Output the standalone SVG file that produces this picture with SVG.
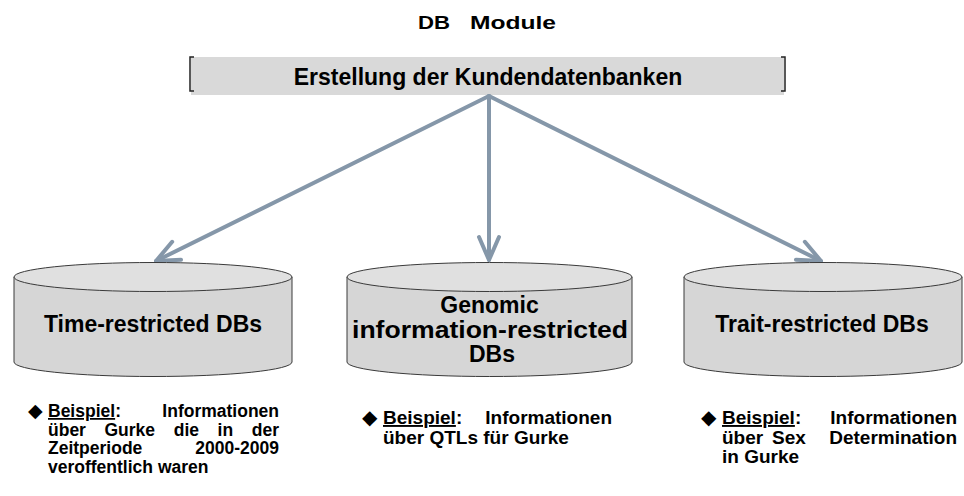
<svg xmlns="http://www.w3.org/2000/svg" width="964" height="496" viewBox="0 0 964 496">
<defs>
<style>
text{font-family:"Liberation Sans","DejaVu Sans",Arial,sans-serif;fill:#000}
.title{font-size:19px;font-weight:bold}
.banner{font-size:23px;font-weight:bold;text-anchor:middle}
.cyl{font-size:23px;font-weight:bold;text-anchor:middle}
.note{font-size:17.5px;font-weight:bold}
.note2{font-size:19px;font-weight:bold}
.end{text-anchor:end}
.u{text-decoration:underline}
.body{fill:#d6d6d6;stroke:#3a3a3a;stroke-width:1}
.top{fill:#e0e0e0;stroke:#3a3a3a;stroke-width:1}
.conn{stroke:#8597a9;stroke-width:4;fill:none;stroke-linecap:round}
.bracket{fill:none;stroke:#222;stroke-width:1.5}
</style>
<marker id="ah" markerUnits="userSpaceOnUse" viewBox="-28 -14 32 28" refX="0" refY="0" markerWidth="32" markerHeight="28" orient="auto">
<path d="M-23,-10 L0,0 L-23,10" fill="none" stroke="#8597a9" stroke-width="4" stroke-linecap="round" stroke-linejoin="round"/>
</marker>
</defs>
<rect width="964" height="496" fill="#fff"/>

<g id="title">
<text class="title" y="29"><tspan x="418" textLength="32" lengthAdjust="spacingAndGlyphs">DB</tspan><tspan x="470" textLength="86" lengthAdjust="spacingAndGlyphs">Module</tspan></text>
</g>

<g id="banner">
<rect x="191" y="57" width="593" height="38" fill="#d9d9d9"/>
<path class="bracket" d="M194,57 H190 V91 H194"/>
<path class="bracket" d="M781,57 H785 V91 H781"/>
<text class="banner" x="488" y="85">Erstellung der Kundendatenbanken</text>
</g>

<g id="connectors">
<line class="conn" x1="489" y1="96" x2="156" y2="261" marker-end="url(#ah)"/>
<line class="conn" x1="489" y1="96" x2="489" y2="260" marker-end="url(#ah)"/>
<line class="conn" x1="489" y1="96" x2="821" y2="261" marker-end="url(#ah)"/>
</g>

<g id="db-time">
<path class="body" d="M14,277 V362 A139,14.5 0 0 0 292,362 V277 Z"/>
<ellipse class="top" cx="153" cy="277" rx="139" ry="14.5"/>
<text class="cyl" x="153" y="332">Time-restricted DBs</text>
</g>

<g id="db-genomic">
<path class="body" d="M347,277 V362 A142.5,14.5 0 0 0 632,362 V277 Z"/>
<ellipse class="top" cx="489.5" cy="277" rx="142.5" ry="14.5"/>
<text class="cyl" x="489.5" y="313">Genomic</text>
<text class="cyl" x="490" y="338" textLength="276" lengthAdjust="spacingAndGlyphs">information-restricted</text>
<text class="cyl" x="492" y="362">DBs</text>
</g>

<g id="db-trait">
<path class="body" d="M684,277 V362 A139,14.5 0 0 0 962,362 V277 Z"/>
<ellipse class="top" cx="823" cy="277" rx="139" ry="14.5"/>
<text class="cyl" x="822" y="332">Trait-restricted DBs</text>
</g>

<g id="note-time">
<text class="note" y="417"><tspan x="28" font-size="19">◆</tspan><tspan x="48" class="u">Beispiel</tspan><tspan>:</tspan></text>
<text class="note end" x="279" y="417">Informationen</text>
<text class="note" y="435.5"><tspan x="48">über</tspan><tspan x="104.5">Gurke</tspan><tspan x="173.7">die</tspan><tspan x="217.6">in</tspan></text>
<text class="note end" x="279" y="435.5">der</text>
<text class="note" x="48" y="454">Zeitperiode</text>
<text class="note end" x="279" y="454">2000-2009</text>
<text class="note" x="48" y="472.5">veroffentlich waren</text>
</g>

<g id="note-genomic">
<text class="note2" y="424"><tspan x="362" font-size="20">◆</tspan><tspan x="383" class="u">Beispiel</tspan><tspan>:</tspan></text>
<text class="note2 end" x="612" y="424">Informationen</text>
<text class="note2" x="383" y="444">über QTLs für Gurke</text>
</g>

<g id="note-trait">
<text class="note2" y="424"><tspan x="701" font-size="20">◆</tspan><tspan x="722" class="u">Beispiel</tspan><tspan>:</tspan></text>
<text class="note2 end" x="957" y="424">Informationen</text>
<text class="note2" y="444"><tspan x="722">über</tspan><tspan x="772">Sex</tspan></text>
<text class="note2 end" x="957" y="444">Determination</text>
<text class="note2" x="722" y="463">in Gurke</text>
</g>
</svg>
